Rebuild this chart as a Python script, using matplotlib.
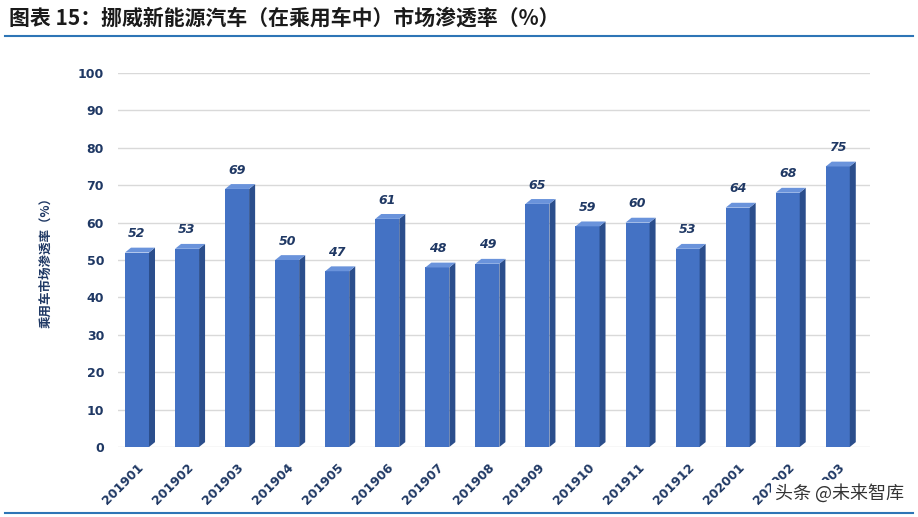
import matplotlib
matplotlib.use("Agg")
import matplotlib.pyplot as plt
from matplotlib.patches import Polygon

plt.rcParams['font.family'] = ['Noto Sans CJK SC', 'DejaVu Sans']

months = ["201901","201902","201903","201904","201905","201906","201907","201908",
          "201909","201910","201911","201912","202001","202002","202003"]
values = [52,53,69,50,47,61,48,49,65,59,60,53,64,68,75]
yticks = [0,10,20,30,40,50,60,70,80,90,100]

fig = plt.figure(figsize=(9.18,5.17), dpi=100)
ax = fig.add_axes([0.1285, 0.1354, 0.819, 0.7234])
ax.set_xlim(-0.38, 14.64)
ax.set_ylim(0, 100)
for s in ax.spines.values():
    s.set_visible(False)

for t in yticks:
    ax.axhline(t, color='#d9d9d9', lw=1, zorder=0)

w = 0.48
dx, dy = 0.12, 1.3
for i, v in enumerate(values):
    x0, x1 = i - w/2, i + w/2
    ax.add_patch(Polygon([(x0,0),(x1,0),(x1,v),(x0,v)], closed=True, fc='#4472C4', ec='none', zorder=3))
    ax.add_patch(Polygon([(x1,0),(x1+dx,dy),(x1+dx,v+dy),(x1,v)], closed=True, fc='#2B4E8C', ec='none', zorder=3))
    ax.add_patch(Polygon([(x0,v),(x1,v),(x1+dx,v+dy),(x0+dx,v+dy)], closed=True, fc='#6A93DB', ec='none', zorder=3))
    ax.text(i, v + dy + 2, str(v), ha='center', va='bottom', fontsize=9, fontweight='bold',
            style='italic', color='#1F3864', family='DejaVu Sans')

ax.set_yticks(yticks)
ax.set_yticklabels([str(t) for t in yticks], fontsize=9, fontweight='bold', color='#1F3864', family='DejaVu Sans')
ax.set_xticks(range(len(months)))
ax.set_xticklabels(months, rotation=45, ha='right', rotation_mode='anchor', fontsize=9,
                   fontweight='bold', color='#1F3864', family='DejaVu Sans')
ax.tick_params(length=0, pad=10)
ax.set_ylabel('乘用车市场渗透率（%）', fontsize=9, fontweight='bold', color='#1F3864', labelpad=18)

fig.text(0.01, 0.965, '图表 15：挪威新能源汽车（在乘用车中）市场渗透率（%）', fontsize=15,
         fontweight='bold', style='italic', color='#1a1a1a', va='center')
fig.add_artist(plt.Line2D([0.005, 0.995], [0.93, 0.93], color='#2E75B6', lw=1.5))
fig.add_artist(plt.Line2D([0.005, 0.995], [0.008, 0.008], color='#2E75B6', lw=1.5))
fig.text(0.985, 0.045, '头条 @未来智库', fontsize=13, color='#333333', ha='right', va='center',
         zorder=10, bbox=dict(facecolor='white', edgecolor='none', pad=3))

fig.savefig('out.png', dpi=100, facecolor='white')
